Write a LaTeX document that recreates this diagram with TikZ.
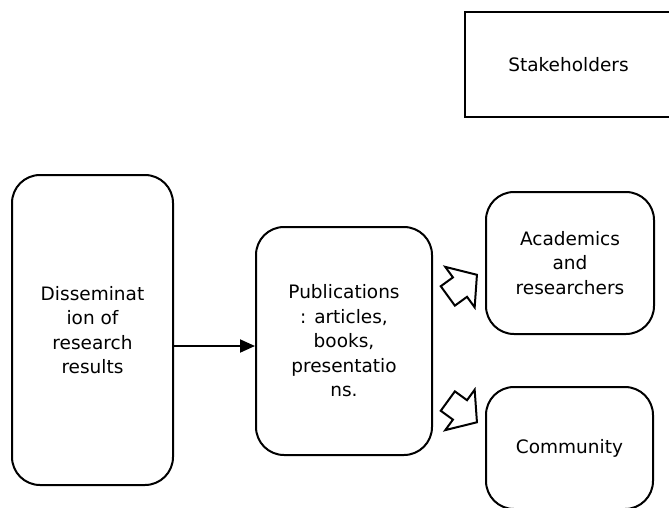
\documentclass[tikz,border=0pt]{standalone}
\usepackage{fontspec}
\setmainfont{DejaVu Sans}
\usetikzlibrary{arrows.meta, shapes.arrows}

\begin{document}
\begin{tikzpicture}[
  x = 1pt, y = -1pt,
  every node/.style = {font=\fontsize{18.5}{24.5}\selectfont, align=center, inner sep=0pt},
  box/.style = {draw, line width=2pt},
  rbox/.style = {box, rounded corners=28pt},
  edge/.style = {draw, line width=2pt, -{Triangle[length=15pt,width=13pt]}},
  hollow/.style = {single arrow, draw, line width=2pt, minimum height=36pt,
    inner sep=11pt, single arrow head extend=13pt, single arrow tip angle=100,
    anchor=tip},
]
\useasboundingbox (0,0) rectangle (669,507);

\node[box, minimum width=207pt, minimum height=105pt] (stake) at (568.5, 64.5) {Stakeholders};

\node[rbox, minimum width=161pt, minimum height=310pt] (diss) at (92.5, 330) {Disseminat\\ion of\\research\\results};
\node[rbox, minimum width=176pt, minimum height=228pt] (pub)  at (344, 341)  {Publications\\: articles,\\books,\\presentatio\\ns.};
\node[rbox, minimum width=168pt, minimum height=142pt] (acad) at (570, 263)  {Academics\\and\\researchers};
\node[rbox, minimum width=167pt, minimum height=122pt] (comm) at (569.5, 448) {Community};

% the arrow meets the publications box a little below its middle
\coordinate (pubin) at ([yshift=-5pt]pub.west);
\draw[edge] (pubin -| diss.east) -- (pubin);

\node[hollow, rotate=36]  (toacad) at (478, 274) {};
\node[hollow, rotate=-36] (tocomm) at (478, 423) {};

\end{tikzpicture}
\end{document}
